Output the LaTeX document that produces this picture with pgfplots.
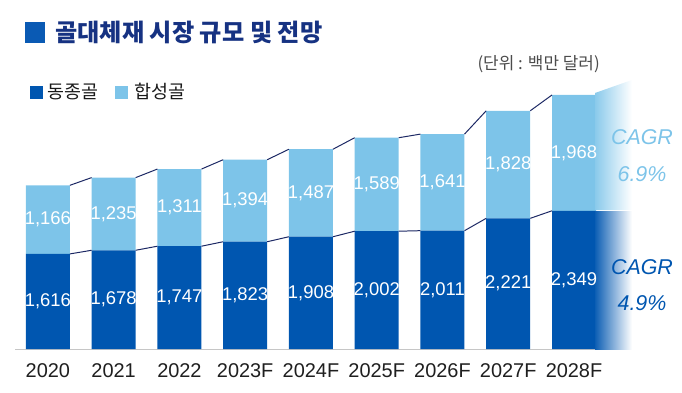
\documentclass[border=0pt]{standalone}
\usepackage{pgfplots}
\pgfplotsset{compat=1.18}
\usepackage{pgfplotstable}
\usepackage{fontspec}
\setmainfont{Liberation Sans}
\newfontfamily\kr{Noto Sans CJK KR}
\definecolor{dkb}{RGB}{0,86,176}
\definecolor{ltb}{RGB}{125,196,233}
\definecolor{navy}{RGB}{28,40,100}
\definecolor{ttl}{RGB}{22,50,130}
\definecolor{sqb}{RGB}{10,90,180}

\pgfplotstableread{
x d l
0 1616 1166
1 1678 1235
2 1747 1311
3 1823 1394
4 1908 1487
5 2002 1589
6 2011 1641
7 2221 1828
8 2349 1968
}\data

\begin{document}
\begin{tikzpicture}[x=1bp,y=1bp]
\useasboundingbox (0,0) rectangle (682,392);
\pgfplotsset{base/.style={at={(15bp,43bp)}, anchor=south west, scale only axis,
  width=593bp, height=294.2bp, xmin=-0.5, xmax=8.517, ymin=0, ymax=5000,
  /pgf/number format/.cd, fixed, 1000 sep={,}, assume math mode=true}}
\begin{axis}[base, ybar stacked, bar width=44bp,
  axis y line=none, axis x line*=bottom,
  x axis line style={draw=gray!45, line width=0.8pt, -},
  xtick={0,...,8},
  xticklabels={2020,2021,2022,2023F,2024F,2025F,2026F,2027F,2028F},
  major tick length=0pt,
  xticklabel style={font=\fontsize{20}{20}\selectfont, text=black!88, yshift=-11bp}]
\addplot[fill=dkb, draw=none] table[x=x,y=d]{\data};
\addplot[fill=ltb, draw=none] table[x=x,y=l]{\data};
\end{axis}
\begin{axis}[base, hide axis, clip=false, unbounded coords=jump]
\addplot[navy, line width=1pt] coordinates {
(0.335,2782) (0.665,2913) (0.7,nan)
(1.335,2913) (1.665,3058) (1.7,nan)
(2.335,3058) (2.665,3217) (2.7,nan)
(3.335,3217) (3.665,3395) (3.7,nan)
(4.335,3395) (4.665,3591) (4.7,nan)
(5.335,3591) (5.665,3652) (5.7,nan)
(6.335,3652) (6.665,4049) (6.7,nan)
(7.335,4049) (7.665,4317)};
\addplot[navy, line width=1pt] coordinates {
(0.335,1616) (0.665,1678) (0.7,nan)
(1.335,1678) (1.665,1747) (1.7,nan)
(2.335,1747) (2.665,1823) (2.7,nan)
(3.335,1823) (3.665,1908) (3.7,nan)
(4.335,1908) (4.665,2002) (4.7,nan)
(5.335,2002) (5.665,2011) (5.7,nan)
(6.335,2011) (6.665,2221) (6.7,nan)
(7.335,2221) (7.665,2349)};
\addplot[draw=none, mark=none, nodes near coords, point meta=explicit,
  nodes near coords style={anchor=center, text=white, font=\fontsize{18.5}{18.5}\selectfont}]
  table[x=x, y expr=\thisrow{d}/2, meta=d]{\data};
\addplot[draw=none, mark=none, nodes near coords, point meta=explicit,
  nodes near coords style={anchor=center, text=white, font=\fontsize{18.5}{18.5}\selectfont}]
  table[x=x, y expr=\thisrow{d}+\thisrow{l}/2, meta=l]{\data};
\shade[left color=ltb!90, right color=white] (axis cs:8.32,4351) -- (axis cs:8.88,4572) -- (axis cs:8.88,2362) -- (axis cs:8.32,2362) -- cycle;
\shade[left color=dkb!95, right color=white] (axis cs:8.32,2337) -- (axis cs:8.88,2337) -- (axis cs:8.88,0) -- (axis cs:8.32,0) -- cycle;
\end{axis}
% title
\fill[sqb] (25,349) rectangle (45,370);
\node[anchor=west, inner sep=0, text=ttl, font=\kr\bfseries\fontsize{24.3}{24.3}\selectfont] at (55,360) {골대체재 시장 규모 및 전망};
% legend
\fill[dkb] (30,293) rectangle (43,306);
\node[anchor=west, inner sep=0, font=\kr\fontsize{18.5}{18.5}\selectfont, text=black!90] at (47,300) {동종골};
\fill[ltb] (115,293) rectangle (128,306);
\node[anchor=west, inner sep=0, font=\kr\fontsize{18.5}{18.5}\selectfont, text=black!90] at (134,300) {합성골};
% unit
\node[anchor=east, inner sep=0, font=\kr\fontsize{17}{17}\selectfont, text=black!70] at (600,328) {(단위 : 백만 달러)};
% CAGR
\node[font=\itshape\fontsize{21.5}{21.5}\selectfont, text=ltb] at (642,255) {CAGR};
\node[font=\itshape\fontsize{21.5}{21.5}\selectfont, text=ltb] at (642,218) {6.9\%};
\node[font=\itshape\fontsize{21.5}{21.5}\selectfont, text=dkb] at (642,125) {CAGR};
\node[font=\itshape\fontsize{21.5}{21.5}\selectfont, text=dkb] at (642,89) {4.9\%};
\end{tikzpicture}
\end{document}
